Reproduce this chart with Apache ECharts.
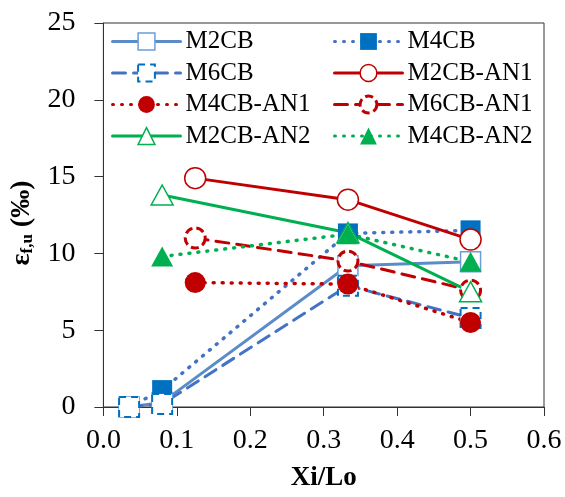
<!DOCTYPE html>
<html>
<head>
<meta charset="utf-8">
<script src="https://cdn.jsdelivr.net/npm/echarts@6/dist/echarts.min.js"></script>
<style>
  html, body { margin: 0; padding: 0; background: #fff; }
  #chart { width: 565px; height: 497px; }
</style>
</head>
<body>
<div id="chart"></div>
<script>
// Xi/Lo positions for each group of specimens
const xCB = [0.035, 0.08, 0.333, 0.5];
const xAN1 = [0.125, 0.333, 0.5];
const xAN2 = [0.08, 0.333, 0.5];

// Ultimate FRP strain (per mille)
const M2CB = [0, 0.3, 9.2, 9.45];
const M4CB = [0, 1.1, 11.3, 11.5];
const M6CB = [0, 0.2, 7.9, 5.8];
const M2CB_AN1 = [14.9, 13.5, 10.9];
const M4CB_AN1 = [8.1, 8.0, 5.5];
const M6CB_AN1 = [11.0, 9.5, 7.6];
const M2CB_AN2 = [13.8, 11.35, 7.5];
const M4CB_AN2 = [9.8, 11.25, 9.45];

const xTicks = [0, 0.1, 0.2, 0.3, 0.4, 0.5, 0.6];
const yTicks = [0, 5, 10, 15, 20, 25];

const pairs = (xs, ys) => xs.map((x, i) => [x, ys[i]]);

const FONT = '"Liberation Serif", "Times New Roman", serif';
const BLUE_L = '#5B8CC8';
const BLUE = '#4472C4';
const BLUE_D = '#0070C0';
const RED = '#C00000';
const GREEN = '#00B050';
const DOT = [1, 8];
const DASH = [13, 8];

function line(name, xs, ys, color, type, width, sym, size, item) {
  return {
    name: name,
    type: 'line',
    data: pairs(xs, ys),
    symbol: sym,
    symbolSize: size,
    showSymbol: true,
    lineStyle: { color: color, width: width, type: type, cap: 'round' },
    itemStyle: item,
    emphasis: { disabled: true },
    animation: false
  };
}

const series = [
  line('M2CB', xCB, M2CB, BLUE_L, 'solid', 3, 'rect', 20,
       { color: '#fff', borderColor: '#6A9ED6', borderWidth: 1.5 }),
  line('M4CB', xCB, M4CB, BLUE, DOT, 3.5, 'rect', 20,
       { color: BLUE_D, borderColor: BLUE_D, borderWidth: 0 }),
  line('M6CB', xCB, M6CB, BLUE, DASH, 3, 'rect', 20,
       { color: '#fff', borderColor: BLUE_D, borderWidth: 2, borderType: [7, 5] }),
  line('M2CB-AN1', xAN1, M2CB_AN1, RED, 'solid', 3, 'circle', 21,
       { color: '#fff', borderColor: RED, borderWidth: 1.5 }),
  line('M4CB-AN1', xAN1, M4CB_AN1, RED, DOT, 3.5, 'circle', 21,
       { color: RED, borderColor: RED, borderWidth: 0 }),
  line('M6CB-AN1', xAN1, M6CB_AN1, RED, DASH, 3, 'circle', 20,
       { color: '#fff', borderColor: RED, borderWidth: 3, borderType: [8, 4] }),
  line('M2CB-AN2', xAN2, M2CB_AN2, GREEN, 'solid', 3, 'triangle', [22, 20],
       { color: '#fff', borderColor: GREEN, borderWidth: 1.5 }),
  line('M4CB-AN2', xAN2, M4CB_AN2, GREEN, DOT, 3.5, 'triangle', [22, 20],
       { color: GREEN, borderColor: GREEN, borderWidth: 0 })
];

const legendBase = {
  orient: 'vertical',
  top: 29,
  padding: 0,
  itemWidth: 68,
  itemHeight: 21,
  itemGap: 6.5,
  selectedMode: false,
  lineStyle: { width: 3 },
  itemStyle: { borderWidth: 'inherit', borderType: 'inherit' },
  textStyle: { fontFamily: FONT, fontSize: 25, color: '#000', lineHeight: 25 }
};

const option = {
  animation: false,
  backgroundColor: '#fff',
  grid: {
    left: 102, right: 21, top: 23, bottom: 83,
    show: true, borderColor: '#333', borderWidth: 1, backgroundColor: 'transparent'
  },
  legend: [
    Object.assign({}, legendBase, { left: 111, data: ['M2CB', 'M6CB', 'M4CB-AN1', 'M2CB-AN2'] }),
    Object.assign({}, legendBase, { left: 333, data: ['M4CB', 'M2CB-AN1', 'M6CB-AN1', 'M4CB-AN2'] })
  ],
  xAxis: {
    type: 'value',
    min: xTicks[0], max: xTicks[xTicks.length - 1], interval: 0.1,
    name: 'Xi/Lo',
    nameLocation: 'middle',
    nameGap: 58,
    nameTextStyle: { fontFamily: FONT, fontSize: 27, fontWeight: 'bold', color: '#000' },
    axisLine: { show: true, onZero: false, lineStyle: { color: '#333', width: 1 } },
    axisTick: { show: true, length: 9, lineStyle: { color: '#333' } },
    axisLabel: {
      margin: 20, fontFamily: FONT, fontSize: 28, color: '#000',
      formatter: v => v.toFixed(1)
    },
    splitLine: { show: false }
  },
  yAxis: {
    type: 'value',
    min: yTicks[0], max: yTicks[yTicks.length - 1], interval: 5,
    name: '{e|ε}{s|f,u}{e| (‰)}',
    nameLocation: 'middle',
    nameRotate: 90,
    nameGap: 60,
    nameTextStyle: {
      padding: [0, 16, 0, 0],
      rich: {
        e: { fontFamily: FONT, fontSize: 28, fontWeight: 'bold', color: '#000' },
        s: { fontFamily: FONT, fontSize: 17, fontWeight: 'bold', color: '#000', padding: [12, 0, 0, 0] }
      }
    },
    axisLine: { show: true, onZero: false, lineStyle: { color: '#333', width: 1 } },
    axisTick: { show: true, length: 9, lineStyle: { color: '#333' } },
    axisLabel: { margin: 28, fontFamily: FONT, fontSize: 28, color: '#000' },
    splitLine: { show: false }
  },
  series: series
};

const chart = echarts.init(document.getElementById('chart'), null, { renderer: 'canvas' });
chart.setOption(option);
</script>
</body>
</html>
